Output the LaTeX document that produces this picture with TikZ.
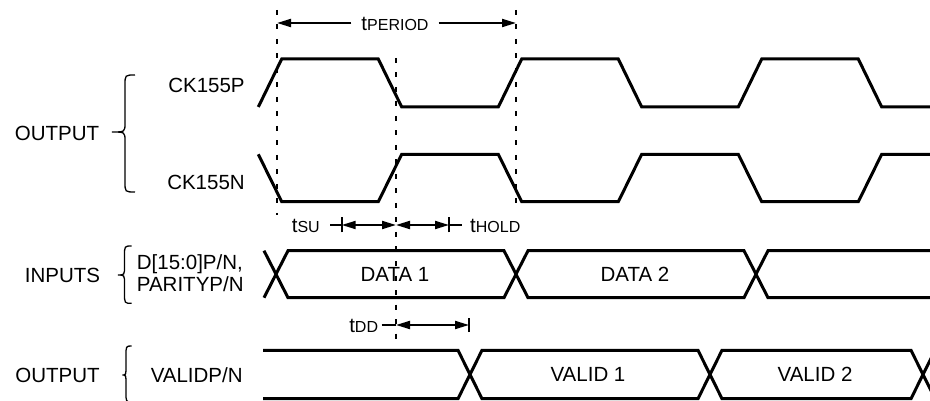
\documentclass[tikz,border=0pt]{standalone}
\usepackage{fontspec}
\setmainfont{Liberation Sans}
\usetikzlibrary{arrows.meta}
\newcommand\sm{\fontsize{16}{16}\selectfont}
% xend, xmid, xtip, ytop, ytip, ybot
\newcommand\cbrace[6]{%
  \draw[brc] (#1,#4) .. controls (#2,#4) .. (#2,#4+10) -- (#2,#5-9)
    .. controls (#2,#5) .. (#3,#5) .. controls (#2,#5) .. (#2,#5+9)
    -- (#2,#6-10) .. controls (#2,#6) .. (#1,#6);}
\begin{document}
\begin{tikzpicture}[x=1pt,y=-1pt,
  wave/.style={line width=3pt},
  vguide/.style={line width=2pt, dash pattern=on 5pt off 9.5pt},
  brc/.style={line width=1.3pt},
  dimline/.style={line width=2pt},
  dimarr/.style={line width=2pt, {Triangle[length=14pt,width=8pt]}-{Triangle[length=14pt,width=8pt]}},
  onearr/.style={line width=2pt, -{Triangle[length=14pt,width=8pt]}},
  lbl/.style={font=\fontsize{20.5}{24}\selectfont, inner sep=0pt, text height=14.7pt, text depth=0pt}]
\useasboundingbox (0,0) rectangle (930,401);
\clip (0,0) rectangle (930,401);

% guides
\draw[vguide] (277,10) -- (277,215);
\draw[vguide] (396,58) -- (396,342);
\draw[vguide] (516,10) -- (516,208);

% tPERIOD
\coordinate (pa) at (277,23);
\coordinate (pb) at (516,23);
\node[lbl, inner xsep=10pt] (tper) at (395,23) {t{\sm PERIOD}};
\draw[onearr] (tper.west) -- (pa);
\draw[onearr] (tper.east) -- (pb);

% labels
\node[lbl] (ck155p) at (206.5,85) {CK155P};
\node[lbl] (ck155n) at (206,181.7) {CK155N};
\node[lbl] (out1) at (57,133.3) {OUTPUT};
\node[lbl] (inp) at (62.5,275) {INPUTS};
\node[lbl, anchor=west] (dbus) at (136.7,261.7) {D[15:0]P/N,};
\node[lbl, anchor=west] (par) at (136.7,284.3) {PARITYP/N};
\node[lbl] (out2) at (57.5,375) {OUTPUT};
\node[lbl] (valid) at (196.7,375) {VALIDP/N};
\node[lbl] (d1) at (395,274) {DATA 1};
\node[lbl] (d2) at (635,274) {DATA 2};
\node[lbl] (v1) at (588,374.5) {VALID 1};
\node[lbl] (v2) at (815,374.5) {VALID 2};

% braces
\cbrace{135}{125}{112}{75}{132}{192}
\cbrace{131.7}{124.5}{118}{246}{275}{303.3}
\cbrace{131.7}{126}{122.5}{346}{375}{402}

% CK155P
\draw[wave] (258.3,107) -- (281.7,59) -- (378.3,59) -- (401.7,107) -- (498.3,107) -- (521.7,59)
  -- (618.3,59) -- (641.7,107) -- (738.3,107) -- (761.7,59) -- (858.3,59) -- (881.7,107) -- (932,107);
% CK155N
\draw[wave] (258.3,154.3) -- (281.7,201.7) -- (378.3,201.7) -- (401.7,154.3) -- (498.3,154.3) -- (521.7,201.7)
  -- (618.3,201.7) -- (641.7,154.3) -- (738.3,154.3) -- (761.7,201.7) -- (858.3,201.7) -- (881.7,154.3) -- (932,154.3);

% DATA bus
\draw[wave] (264,250.7) -- (288,297.7) -- (504,297.7) -- (528,250.7) -- (744,250.7) -- (768,297.7) -- (932,297.7);
\draw[wave] (264,297.7) -- (288,250.7) -- (504,250.7) -- (528,297.7) -- (744,297.7) -- (768,250.7) -- (932,250.7);

% VALID bus
\draw[wave] (263,350.3) -- (458,350.3) -- (482,398.7) -- (698,398.7) -- (722,350.3) -- (911,350.3) -- (935,398.7);
\draw[wave] (263,398.7) -- (458,398.7) -- (482,350.3) -- (698,350.3) -- (722,398.7) -- (911,398.7) -- (935,350.3);

% tSU / tHOLD
\node[lbl, anchor=east] (tsu) at (320,225) {t{\sm SU}};
\node[lbl, anchor=west] (thold) at (470,225) {t{\sm HOLD}};
\coordinate (suext) at (330,225);
\coordinate (su1) at (341.7,225);
\coordinate (su2) at (396,225);
\coordinate (ho2) at (449,225);
\coordinate (hoext) at (461.7,225);
\draw[dimline] (suext) -- (su1);
\draw[dimline] ([yshift=-7.5pt]su1) -- ([yshift=7.5pt]su1);
\draw[dimarr] (su1) -- (su2);
\draw[dimarr] (su2) -- (ho2);
\draw[dimline] (ho2) -- (hoext);
\draw[dimline] ([yshift=-7.5pt]ho2) -- ([yshift=7.5pt]ho2);

% tDD
\node[lbl, anchor=east] (tdd) at (378.3,325) {t{\sm DD}};
\coordinate (ddext) at (381.7,325);
\coordinate (dd1) at (396,325);
\coordinate (dd2) at (469,325);
\draw[dimline] (ddext) -- (dd1);
\draw[dimarr] (dd1) -- (dd2);
\draw[dimline] ([yshift=-7pt]dd2) -- ([yshift=7pt]dd2);
\end{tikzpicture}
\end{document}
